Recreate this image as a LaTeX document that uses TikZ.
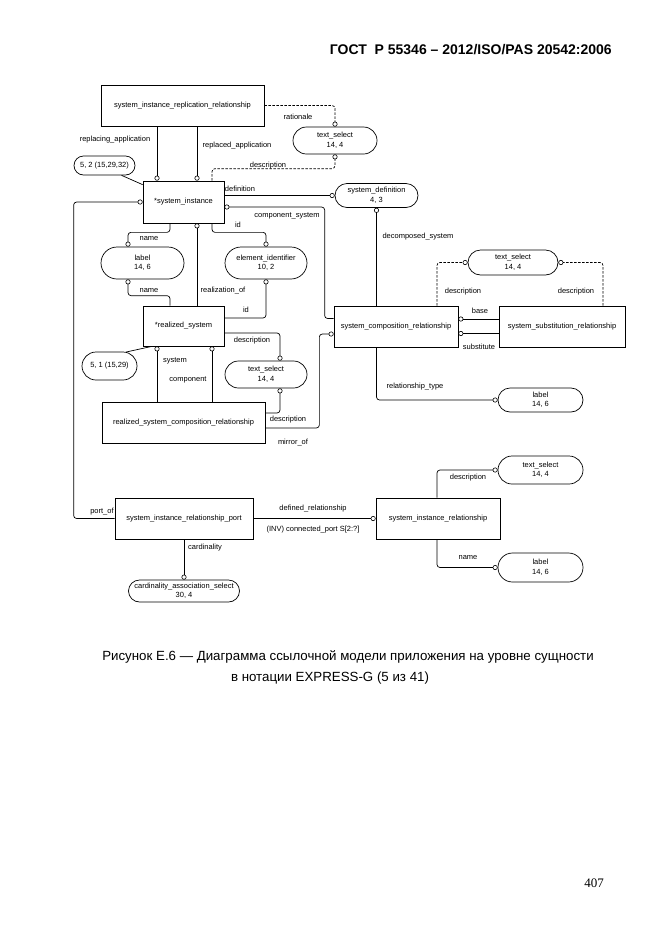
\documentclass[tikz,border=0pt]{standalone}
\usepackage{fontspec}
\setmainfont{Liberation Sans}
\newfontfamily\pagefont{Liberation Serif}
\usetikzlibrary{arrows.meta,shapes.misc}

\begin{document}
\begin{tikzpicture}[x=1pt,y=-1pt,
  font=\fontsize{7.5}{9.5}\selectfont,
  ent/.style={draw, line width=0.7pt, inner sep=0pt, minimum width=#1, minimum height=41pt},
  typ/.style={draw, rounded rectangle, line width=0.7pt, inner sep=0pt, align=center, minimum width=#1},
  rel/.style={line width=0.7pt, rounded corners=3pt, -{Circle[open,length=5pt,line width=0.6pt]}},
  drel/.style={rel, dash pattern=on 2.5pt off 1.5pt},
  plain/.style={line width=0.7pt},
  lbl/.style={inner sep=0pt}]
  \useasboundingbox (0,0) rectangle (662,935);

  % Header and caption
  \node[lbl, anchor=base east, font=\fontsize{14}{16}\selectfont\bfseries] (head) at (612,54) {ГОСТ \ Р 55346 – 2012/ISO/PAS 20542:2006};
  \node[lbl, anchor=base, font=\fontsize{13.3}{15}\selectfont] (cap1) at (348,660) {Рисунок Е.6 — Диаграмма ссылочной модели приложения на уровне сущности};
  \node[lbl, anchor=base, font=\fontsize{13.3}{15}\selectfont] (cap2) at (330,681) {в нотации EXPRESS-G (5 из 41)};
  \node[lbl, anchor=base, font=\fontsize{13}{15}\selectfont\pagefont] (pageno) at (594,887) {407};

  % Entities
  \node[ent=163pt] (repl) at (182.5,105.5) {system\_instance\_replication\_relationship};
  \node[ent=81pt, minimum height=42pt] (si) at (183.5,202) {*system\_instance};
  \node[ent=81pt, minimum height=40pt] (rs) at (183.5,326) {*realized\_system};
  \node[ent=163pt] (rscr) at (183.5,422.5) {realized\_system\_composition\_relationship};
  \node[ent=124pt] (scr) at (396,326.5) {system\_composition\_relationship};
  \node[ent=126pt] (ssr) at (562,326.5) {system\_substitution\_relationship};
  \node[ent=138pt] (port) at (184,518.5) {system\_instance\_relationship\_port};
  \node[ent=124pt] (sir) at (438,518.5) {system\_instance\_relationship};

  % Types and page references
  \node[typ=84pt, minimum height=27pt] (ts1) at (335,140.5) {text\_select\\14, 4};
  \node[typ=61pt, minimum height=19pt] (num52) at (104.5,165.5) {5, 2 (15,29,32)};
  \node[typ=83pt, minimum height=24pt] (sysdef) at (376.5,195.5) {system\_definition\\4, 3};
  \node[typ=83pt, minimum height=32pt] (lab1) at (142.5,263) {label\\14, 6};
  \node[typ=82pt, minimum height=32pt] (elemid) at (266,263) {element\_identifier\\10, 2};
  \node[typ=55pt, minimum height=28pt] (num51) at (109.5,366) {5, 1 (15,29)};
  \node[typ=82pt, minimum height=27pt] (ts2) at (266,374.5) {text\_select\\14, 4};
  \node[typ=90pt, minimum height=25pt] (ts3) at (513,262.5) {text\_select\\14, 4};
  \node[typ=85pt, minimum height=24pt] (lab2) at (540.5,400) {label\\14, 6};
  \node[typ=85pt, minimum height=28pt] (ts4) at (540.5,470) {text\_select\\14, 4};
  \node[typ=85pt, minimum height=29pt] (lab3) at (540.5,567.5) {label\\14, 6};
  \node[typ=111pt, minimum height=22pt] (card) at (184,591) {cardinality\_association\_select\\30, 4};

  % Relationships around system_instance
  \draw[rel] ([xshift=-26.5pt]si.north |- repl.south) -- ([xshift=-26.5pt]si.north);
  \draw[rel] ([xshift=13.5pt]si.north |- repl.south) -- ([xshift=13.5pt]si.north);
  \draw[drel] (repl.east) -| (ts1.north);
  \draw[drel] ([xshift=28.5pt]si.north) -- ++(0,-12) -| (ts1.south);
  \draw[plain] (num52.-30) -- ([yshift=-4pt]si.north west);
  \draw[rel] (si.east |- sysdef.west) -- (sysdef.west);
  \draw[rel] ([yshift=8pt]scr.west) -- ++(-9,0) |- ([yshift=-5pt]si.east);
  \draw[rel] (port.west) -- ++(-41,0) |- (si.west);
  \draw[rel] ([xshift=-13.5pt]si.south) -- ++(0,9) -| ([xshift=-14.5pt]lab1.north);
  \draw[rel] ([xshift=28.5pt]si.south) -- ++(0,9) -| (elemid.north);

  % realized_system
  \draw[rel] ([xshift=-13.5pt]rs.north) -- ++(0,-10) -| ([xshift=-14.5pt]lab1.south);
  \draw[rel] ([xshift=13.5pt]rs.north) -- ([xshift=13.5pt]si.south);
  \draw[rel] ([yshift=8pt]rs.east) -| (elemid.south);
  \draw[plain] (num51.40) -- ([xshift=-31.5pt]rs.south);
  \draw[rel] ([xshift=-26.5pt]rscr.north) -- ([xshift=-26.5pt]rs.south);
  \draw[rel] ([xshift=28.5pt]rscr.north) -- ([xshift=28.5pt]rs.south);
  \draw[rel] ([yshift=-7pt]rs.east) -| ([xshift=14pt]ts2.north);
  \draw[rel] ([yshift=9.5pt]rscr.east) -| ([xshift=14pt]ts2.south);
  \draw[rel] ([yshift=-5.5pt]rscr.east) -- ++(54,0) |- ([yshift=-7.5pt]scr.west);

  % system_composition_relationship
  \draw[rel] (scr.north -| sysdef.south) -- (sysdef.south);
  \draw[rel] ([yshift=7.5pt]ssr.west) -- ([yshift=7.5pt]scr.east);
  \draw[rel] ([yshift=-7pt]ssr.west) -- ([yshift=-7pt]scr.east);
  \draw[drel] ([xshift=41pt]scr.north) |- (ts3.west);
  \draw[drel] ([xshift=41pt]ssr.north) |- (ts3.east);
  \draw[rel] (scr.south -| sysdef.south) |- (lab2.west);

  % ports
  \draw[rel] (port.east) -- (sir.west);
  \draw[rel] (port.south) -- (card.north);
  \draw[rel] ([xshift=-1pt]sir.north) |- (ts4.west);
  \draw[rel] ([xshift=-1pt]sir.south) |- (lab3.west);

  % Role names
  \node[lbl] (l-repling) at (115,140) {replacing\_application};
  \node[lbl] (l-repled) at (237,146) {replaced\_application};
  \node[lbl] (l-ration) at (298,117) {rationale};
  \node[lbl] (l-desc1) at (268,166) {description};
  \node[lbl] (l-defn) at (240,189) {definition};
  \node[lbl] (l-comp) at (287,216) {component\_system};
  \node[lbl] (l-decomp) at (418,237) {decomposed\_system};
  \node[lbl] (l-name1) at (149,239) {name};
  \node[lbl] (l-id1) at (238,225) {id};
  \node[lbl] (l-name2) at (149,291) {name};
  \node[lbl] (l-realof) at (223,291) {realization\_of};
  \node[lbl] (l-id2) at (246,310) {id};
  \node[lbl] (l-desc2) at (252,341) {description};
  \node[lbl] (l-system) at (175,361) {system};
  \node[lbl] (l-compon) at (188,380) {component};
  \node[lbl] (l-desc3) at (288,420) {description};
  \node[lbl] (l-mirror) at (293,443) {mirror\_of};
  \node[lbl] (l-base) at (480,311) {base};
  \node[lbl] (l-subst) at (479,347) {substitute};
  \node[lbl] (l-desc4) at (463,292) {description};
  \node[lbl] (l-desc5) at (576,292) {description};
  \node[lbl] (l-reltype) at (415,387) {relationship\_type};
  \node[lbl] (l-portof) at (102,512) {port\_of};
  \node[lbl] (l-defrel) at (313,509) {defined\_relationship};
  \node[lbl] (l-inv) at (313,530) {(INV) connected\_port S[2:?]};
  \node[lbl] (l-card) at (205,548) {cardinality};
  \node[lbl] (l-desc6) at (468,478) {description};
  \node[lbl] (l-name3) at (468,558) {name};
\end{tikzpicture}
\end{document}
